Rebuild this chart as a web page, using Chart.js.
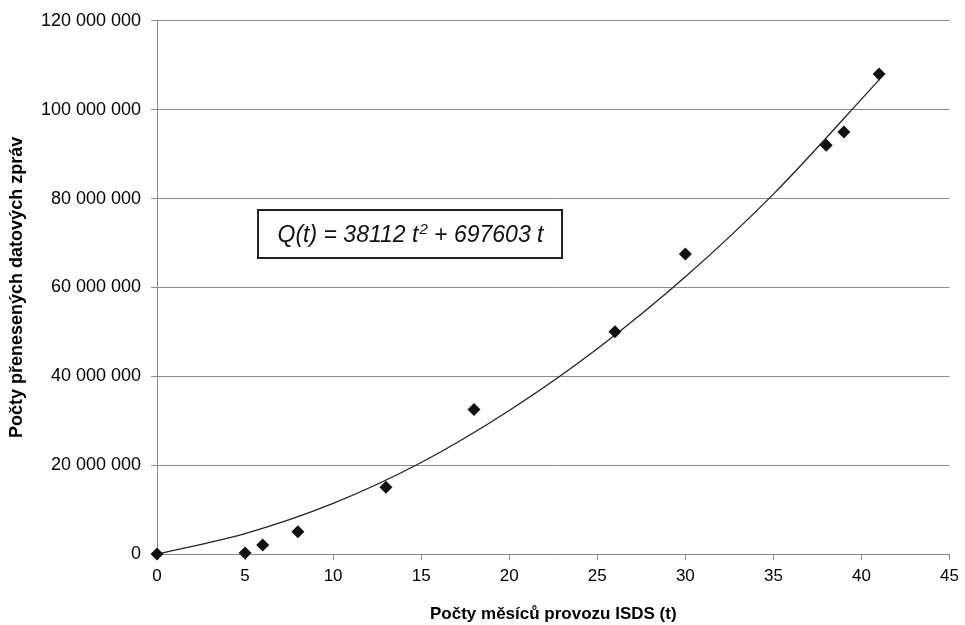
<!DOCTYPE html>
<html>
<head>
<meta charset="utf-8">
<script src="https://cdn.jsdelivr.net/npm/chart.js@4.4.0/dist/chart.umd.min.js"></script>
<style>
  html, body { margin: 0; padding: 0; background: #fff; }
</style>
</head>
<body>
<canvas id="isdsChart" width="965" height="625"></canvas>
<script>
// measured points (months of operation vs. transferred messages)
const months = [0, 5, 6, 8, 13, 18, 26, 30, 38, 39, 41];
const messages = [0, 200000, 2000000, 5000000, 15000000, 32500000, 50000000, 67500000, 92000000, 95000000, 108000000];

// trend curve
const trendMonths = [0, 5, 10, 15, 20, 25, 30, 35, 41];
const trendMessages = [0, 4600000, 11400000, 20600000, 32300000, 46200000, 62400000, 81000000, 106700000];

const xTicks = [0, 5, 10, 15, 20, 25, 30, 35, 40, 45];
const yTicks = [0, 20000000, 40000000, 60000000, 80000000, 100000000, 120000000];

const xTitle = 'Počty měsíců provozu ISDS (t)';
const yTitle = 'Počty přenesených datových zpráv';
const eqStart = 'Q(t) = 38112 t';
const eqSup = '2';
const eqEnd = ' + 697603 t';

const FONT = '"Liberation Sans", Arial, sans-serif';

const fmt = v => String(v).replace(/\B(?=(\d{3})+(?!\d))/g, ' ');

// equation text box
const equationBox = {
  id: 'equationBox',
  afterDatasetsDraw(chart) {
    const ctx = chart.ctx;
    const bx = 258, by = 210, bw = 304, bh = 48;
    ctx.save();
    ctx.fillStyle = '#fff';
    ctx.fillRect(bx, by, bw, bh);
    ctx.strokeStyle = '#222';
    ctx.lineWidth = 2;
    ctx.strokeRect(bx, by, bw, bh);

    const mainFont = 'italic 23px ' + FONT;
    const supFont = 'italic 15px ' + FONT;
    ctx.font = mainFont;
    const w1 = ctx.measureText(eqStart).width;
    const w3 = ctx.measureText(eqEnd).width;
    ctx.font = supFont;
    const w2 = ctx.measureText(eqSup).width;
    let x = bx + (bw - (w1 + w2 + w3)) / 2;
    const base = by + bh / 2 + 8;
    ctx.fillStyle = '#111';
    ctx.textBaseline = 'alphabetic';
    ctx.font = mainFont;
    ctx.fillText(eqStart, x, base);
    x += w1 + 1;
    ctx.font = supFont;
    ctx.fillText(eqSup, x, base - 8);
    x += w2;
    ctx.font = mainFont;
    ctx.fillText(eqEnd, x, base);
    ctx.restore();
  }
};

const ctx = document.getElementById('isdsChart').getContext('2d');

new Chart(ctx, {
  type: 'scatter',
  data: {
    datasets: [
      {
        label: 'data',
        data: months.map((m, i) => ({ x: m, y: messages[i] })),
        pointStyle: 'rectRot',
        pointRadius: 6.5,
        pointBackgroundColor: '#111',
        pointBorderColor: '#111',
        pointBorderWidth: 0,
        showLine: false,
        clip: false,
        order: 1,
      },
      {
        label: 'trend',
        type: 'line',
        data: trendMonths.map((m, i) => ({ x: m, y: trendMessages[i] })),
        borderColor: '#222',
        borderWidth: 1.3,
        pointRadius: 0,
        fill: false,
        cubicInterpolationMode: 'monotone',
        order: 2,
      },
    ],
  },
  options: {
    responsive: false,
    animation: false,
    devicePixelRatio: 1,
    layout: { padding: { top: 20, right: 15, left: 0, bottom: 0 } },
    plugins: {
      legend: { display: false },
      tooltip: { enabled: false },
    },
    scales: {
      x: {
        type: 'linear',
        min: 0,
        max: 45,
        afterBuildTicks: scale => { scale.ticks = xTicks.map(v => ({ value: v })); },
        afterFit: scale => { scale.height = 71; },
        ticks: { color: '#000', font: { family: FONT, size: 17 }, padding: 6 },
        grid: { drawOnChartArea: false, drawTicks: true, tickLength: 6, color: '#888' },
        border: { color: '#888' },
        title: {
          display: true,
          text: xTitle,
          color: '#000',
          font: { family: FONT, size: 17, weight: 'bold' },
          padding: { top: 5, bottom: 0 },
        },
      },
      y: {
        min: 0,
        max: 120000000,
        afterBuildTicks: scale => { scale.ticks = yTicks.map(v => ({ value: v })); },
        afterFit: scale => { scale.width = 157; },
        ticks: { color: '#000', font: { family: FONT, size: 18 }, padding: 10, callback: v => fmt(v) },
        grid: { color: '#8a8a8a', tickLength: 6 },
        border: { color: '#888' },
        title: {
          display: true,
          text: yTitle,
          color: '#000',
          font: { family: FONT, size: 18, weight: 'bold' },
          padding: { top: 6, bottom: 0 },
        },
      },
    },
  },
  plugins: [equationBox],
});
</script>
</body>
</html>
